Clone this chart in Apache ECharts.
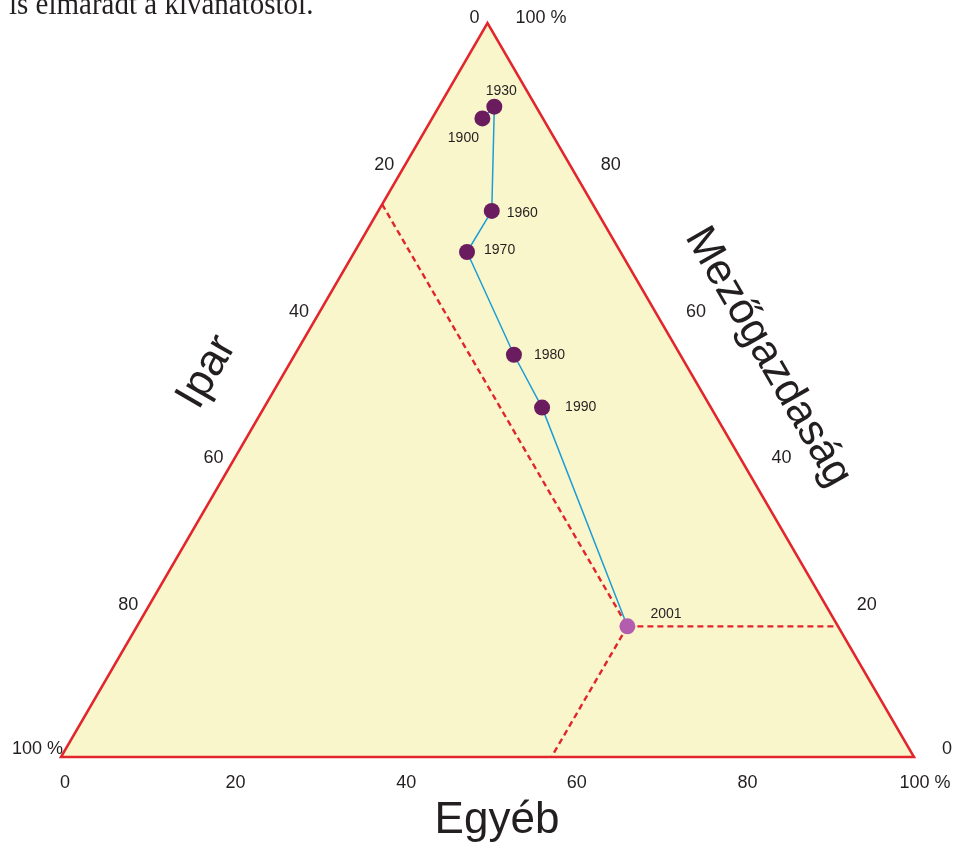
<!DOCTYPE html>
<html>
<head>
<meta charset="utf-8">
<script src="https://cdn.jsdelivr.net/npm/echarts@6/dist/echarts.min.js"></script>
<style>
html,body{margin:0;padding:0;background:#fff;}
#chart{width:956px;height:848px;}
</style>
</head>
<body>
<div id="chart"></div>
<script>
// ---- data (percentages, each row sums to 100) ----
const years = ['1900', '1930', '1960', '1970', '1980', '1990', '2001'];
const mezogazdasag = [87.0, 88.6, 74.4, 68.8, 54.8, 47.6, 17.8];
const ipar = [7.1, 4.9, 12.3, 18.0, 19.5, 19.8, 24.7];
const egyeb = [5.9, 6.5, 13.3, 13.2, 25.7, 32.6, 57.5];

const tickValues = [0, 20, 40, 60, 80, 100];
const tickLabels = ['0', '20', '40', '60', '80', '100 %'];

// ternary (mezőgazdaság, ipar, egyéb) -> cartesian data units
function tern(m, i, e) { return [e + m / 2, m]; }

const FONT = '"Liberation Sans", Arial, Helvetica, sans-serif';
const TXT = '#231f20';

// point label placement (layout only)
const yearLabel = {
  '1900': { align: 'center', offset: [-19, 20] },
  '1930': { align: 'center', offset: [7, -16] },
  '1960': { align: 'left', offset: [15, 2] },
  '1970': { align: 'left', offset: [17, -2] },
  '1980': { align: 'left', offset: [20, 0] },
  '1990': { align: 'left', offset: [23, 0] },
  '2001': { align: 'left', offset: [23, -12] }
};

const pts = years.map((y, k) => tern(mezogazdasag[k], ipar[k], egyeb[k]));
const last = years.length - 1;
const mL = mezogazdasag[last], iL = ipar[last], eL = egyeb[last];

// triangle corners
const corners = [tern(0, 100, 0), tern(0, 0, 100), tern(100, 0, 0)];

// tick label points: [x, y, text, align, dx, dy]
const tickData = [];
tickValues.forEach((v, k) => {
  const b = tern(0, 100 - v, v);            // Egyéb (bottom)
  tickData.push([b[0], b[1], tickLabels[k], 'center', v === 100 ? 11 : 4, 26]);
  const l = tern(100 - v, v, 0);            // Ipar (left edge)
  tickData.push([l[0], l[1], tickLabels[k], 'right', v === 100 ? 2 : -8, v === 100 ? -8 : -5]);
  const r = tern(v, 0, 100 - v);            // Mezőgazdaság (right edge)
  tickData.push([r[0], r[1], tickLabels[k], 'left', 28, v === 0 ? -8 : -5]);
});

const chart = echarts.init(document.getElementById('chart'), null, { renderer: 'canvas' });

const dashStyle = { color: '#e0262c', width: 2.4, type: [6, 4] };

const option = {
  animation: false,
  backgroundColor: '#ffffff',
  grid: { left: 61, top: 23, width: 853, height: 734, containLabel: false },
  xAxis: { type: 'value', min: 0, max: 100, show: false },
  yAxis: { type: 'value', min: 0, max: 100, show: false },
  graphic: [
    { type: 'text', x: 9, y: 6, scaleY: 1.1, style: { text: 'is elmaradt a kívánatostól.', font: '29px "Liberation Serif", "Times New Roman", serif', fill: TXT, align: 'left', verticalAlign: 'middle' } },
    { type: 'text', x: 497, y: 821, style: { text: 'Egyéb', font: '44px ' + FONT, fill: TXT, align: 'center', verticalAlign: 'middle' } },
    { type: 'text', x: 207, y: 372, rotation: Math.PI / 3, style: { text: 'Ipar', font: '44px ' + FONT, fill: TXT, align: 'center', verticalAlign: 'middle' } },
    { type: 'text', x: 768, y: 357, rotation: -Math.PI / 3, style: { text: 'Mezőgazdaság', font: '43px ' + FONT, fill: TXT, align: 'center', verticalAlign: 'middle' } }
  ],
  series: [
    {
      type: 'custom',
      z: 1,
      silent: true,
      data: [0],
      renderItem: function (params, api) {
        const p = corners.map(c => api.coord(c));
        return {
          type: 'polygon',
          shape: { points: p },
          style: { fill: '#faf6cc', stroke: '#e2262c', lineWidth: 2.5, lineJoin: 'miter' }
        };
      }
    },
    {
      type: 'line', z: 2, silent: true, symbol: 'none', lineStyle: dashStyle,
      data: [tern(100 - iL, iL, 0), tern(mL, iL, eL)]
    },
    {
      type: 'line', z: 2, silent: true, symbol: 'none', lineStyle: dashStyle,
      data: [tern(mL, iL, eL), tern(mL, 0, 100 - mL)]
    },
    {
      type: 'line', z: 2, silent: true, symbol: 'none', lineStyle: dashStyle,
      data: [tern(mL, iL, eL), tern(0, 100 - eL, eL)]
    },
    {
      type: 'line', z: 3, silent: true, symbol: 'none',
      lineStyle: { color: '#1c9dd6', width: 1.5 },
      data: pts
    },
    {
      type: 'scatter', z: 4, silent: true,
      symbolSize: 16,
      data: pts.map((p, k) => ({
        value: p,
        itemStyle: { color: k === last ? '#b35daf' : '#6b1c5e', opacity: 1 },
        label: {
          show: true, formatter: years[k], position: 'inside',
          align: yearLabel[years[k]].align, verticalAlign: 'middle',
          offset: yearLabel[years[k]].offset,
          color: TXT, fontSize: 14, fontFamily: FONT
        }
      }))
    },
    {
      type: 'custom', z: 5, silent: true,
      data: tickData,
      renderItem: function (params, api) {
        const d = tickData[params.dataIndex];
        const p = api.coord([d[0], d[1]]);
        return {
          type: 'text',
          x: p[0] + d[4], y: p[1] + d[5],
          style: { text: d[2], fill: TXT, font: '18px ' + FONT, align: d[3], verticalAlign: 'middle' }
        };
      }
    }
  ]
};
chart.setOption(option);
</script>
</body>
</html>
